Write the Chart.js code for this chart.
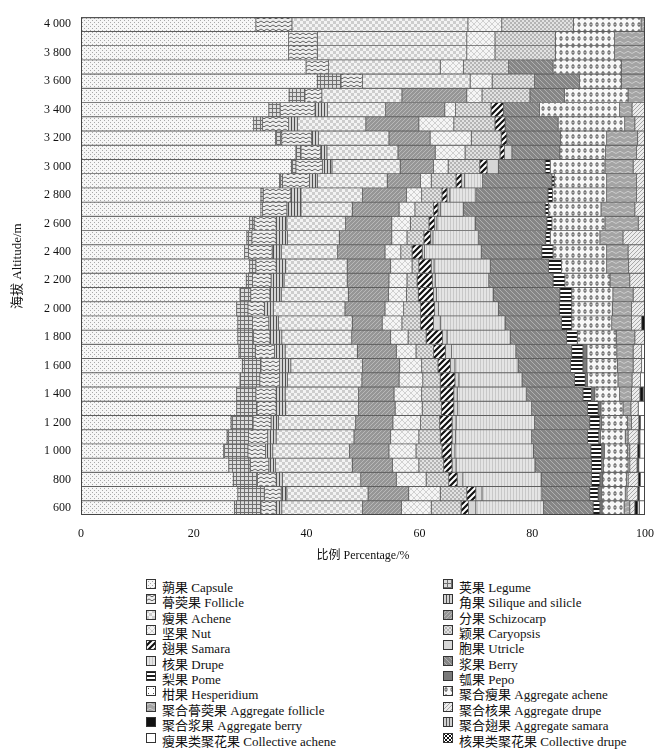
<!DOCTYPE html>
<html>
<head>
<meta charset="utf-8">
<script src="https://cdn.jsdelivr.net/npm/chart.js@4.4.1/dist/chart.umd.min.js"></script>
<style>
  body { margin: 0; background: #fff; }
  #wrap { position: relative; width: 667px; height: 754px; }
  #box { position: absolute; left: 0; top: 0; width: 667px; height: 575px; }
  .item { position: absolute; height: 15px; line-height: 15px; white-space: nowrap;
          font: 13px "Liberation Serif", "Noto Sans CJK SC", serif; color: #111; }
  .item canvas { position: absolute; left: 0; top: 2px; }
  .item span { position: absolute; left: 16px; top: 0; }
</style>
</head>
<body>
<div id="wrap">
  <div id="box"><canvas id="chart"></canvas></div>
  <div id="legend"></div>
</div>
<script>
// altitude classes, bottom to top
const altitudes = [600, 700, 800, 900, 1000, 1100, 1200, 1300, 1400, 1500, 1600, 1700,
    1800, 1900, 2000, 2100, 2200, 2300, 2400, 2500, 2600, 2700, 2800, 2900,
    3000, 3100, 3200, 3300, 3400, 3500, 3600, 3700, 3800, 3900, 4000];

const xTicks = [0, 20, 40, 60, 80, 100];

// ---------------- SERIES (percent, 600 m -> 4000 m) ----------------
const capsule = [27.2, 27.8, 27.0, 26.2, 25.3, 25.9, 26.6, 27.6, 27.6, 28.2, 28.6, 28.0, 27.8, 27.8, 27.6, 28.2, 29.3, 29.9, 29.0, 29.4, 29.9, 31.9, 31.9, 35.2, 37.3, 38.1, 34.5, 30.6, 33.3, 36.9, 41.9, 39.9, 36.8, 36.8, 31.0];
const legume = [4.7, 4.7, 4.3, 3.8, 4.3, 3.8, 3.9, 3.6, 3.4, 3.5, 3.3, 2.9, 2.8, 2.6, 2.0, 1.9, 1.1, 1.1, 0.7, 0.9, 0.8, 0.3, 0.4, 0.5, 0.8, 0.9, 1.1, 1.6, 2.0, 2.8, 4.2, 0, 0, 0, 0];
const follicle = [2.7, 3.0, 3.3, 3.3, 3.1, 3.4, 3.2, 3.4, 3.6, 3.5, 3.3, 3.4, 2.9, 2.9, 2.9, 3.4, 3.3, 3.6, 4.2, 4.3, 3.9, 4.3, 4.9, 4.8, 4.7, 3.5, 5.3, 4.6, 6.2, 3.0, 3.8, 4.0, 5.1, 5.1, 6.4];
const silique = [1.0, 1.0, 1.1, 1.2, 1.3, 1.5, 1.3, 1.7, 1.6, 1.4, 2.0, 1.9, 2.1, 1.7, 1.6, 2.0, 2.3, 1.7, 1.6, 2.0, 1.9, 2.5, 1.8, 1.4, 1.7, 1.1, 1.2, 1.6, 2.2, 0, 0, 0, 0, 0, 0];
const achene = [14.3, 14.4, 13.9, 13.6, 13.6, 13.8, 13.7, 12.9, 13.0, 13.2, 12.7, 12.8, 12.4, 13.1, 12.7, 11.9, 11.2, 10.9, 10.0, 9.2, 10.4, 9.1, 10.9, 12.4, 12.1, 12.6, 12.5, 12.1, 10.3, 14.2, 19.1, 19.8, 26.5, 26.5, 31.2];
const schizocarp = [6.9, 7.2, 6.3, 7.1, 7.0, 6.5, 6.6, 6.5, 6.3, 6.6, 6.6, 6.9, 6.9, 5.3, 7.1, 7.1, 7.4, 7.7, 8.4, 9.3, 8.2, 8.3, 7.8, 5.9, 5.9, 6.6, 7.3, 9.4, 10.5, 11.5, 0, 0, 0, 0, 0];
const nut = [5.3, 5.6, 5.3, 4.7, 4.8, 5.0, 4.9, 4.8, 4.9, 4.2, 3.9, 3.5, 3.1, 3.5, 3.3, 3.2, 3.2, 3.8, 2.8, 2.7, 3.3, 2.8, 2.7, 1.9, 2.6, 5.3, 7.3, 6.2, 1.9, 2.7, 3.9, 4.1, 5.0, 5.0, 6.0];
const caryopsis = [5.3, 4.7, 4.0, 4.4, 4.6, 3.8, 3.4, 3.4, 3.3, 3.1, 2.9, 3.1, 3.2, 3.3, 3.0, 2.1, 1.8, 1.2, 2.0, 3.0, 3.3, 3.3, 3.6, 4.4, 5.6, 6.2, 5.3, 7.3, 6.3, 8.5, 7.5, 8.0, 10.7, 10.7, 12.7];
const samara = [1.3, 1.6, 1.5, 1.5, 1.7, 2.1, 2.2, 2.2, 2.4, 2.6, 2.2, 2.1, 2.9, 2.3, 2.5, 2.7, 2.7, 2.2, 1.8, 1.2, 1.0, 0.8, 0.9, 1.0, 1.3, 0.8, 1.0, 1.8, 2.2, 0, 0, 0, 0, 0, 0];
const utricle = [1.3, 1.1, 1.0, 0.7, 0.6, 0.6, 0.7, 0.7, 0.6, 0.7, 0.8, 1.1, 0.8, 1.2, 0.7, 0.5, 0.5, 0.5, 0.4, 0.4, 0.4, 0.4, 0.5, 0.5, 2.0, 1.3, 0, 0, 0, 0, 0, 0, 0, 0, 0];
const drupe = [12.0, 10.6, 13.9, 14.0, 13.9, 13.5, 13.9, 13.1, 12.3, 11.2, 11.2, 11.4, 11.2, 11.5, 10.6, 10.1, 9.5, 10.0, 10.1, 8.1, 6.8, 4.1, 4.6, 3.2, 0, 0, 0, 0, 0, 0, 0, 0, 0, 0, 0];
const berry = [8.8, 8.5, 8.9, 10.0, 10.2, 9.9, 9.8, 9.9, 10.0, 9.3, 9.3, 9.9, 10.0, 10.0, 10.8, 11.8, 11.4, 10.3, 10.7, 11.9, 12.7, 14.5, 12.8, 12.3, 8.3, 8.5, 9.5, 9.4, 6.4, 6.1, 8.0, 7.9, 0, 0, 0];
const pome = [1.2, 1.5, 1.5, 1.8, 1.9, 2.0, 1.8, 1.9, 1.5, 1.9, 2.2, 2.0, 1.9, 1.8, 2.2, 2.1, 2.1, 2.3, 2.0, 0.8, 0.9, 0.6, 0.8, 0.4, 0.9, 0, 0, 0, 0, 0, 0, 0, 0, 0, 0];
const pepo = [0.4, 0.6, 0.5, 0.3, 0.5, 0.3, 0.3, 0.5, 0.6, 0.4, 0.7, 0.7, 0, 0, 0, 0, 0, 0, 0, 0, 0, 0, 0, 0, 0, 0, 0, 0, 0, 0, 0, 0, 0, 0, 0];
const hesperidium = [0, 0, 0, 0, 0, 0, 0, 0, 0, 0, 0, 0, 0, 0, 0, 0, 0, 0, 0, 0, 0, 0, 0, 0, 0, 0, 0, 0, 0, 0, 0, 0, 0, 0, 0];
const aggAchene = [3.9, 4.2, 4.2, 4.4, 4.1, 4.4, 4.6, 3.9, 4.4, 5.4, 5.4, 5.3, 6.9, 7.1, 7.2, 7.3, 8.0, 8.0, 9.5, 8.8, 9.4, 9.3, 9.6, 9.3, 9.7, 8.1, 8.2, 11.8, 14.2, 11.3, 7.4, 12.1, 10.5, 10.5, 12.0];
const aggFollicle = [1.0, 0.3, 0.3, 0.3, 0.4, 0.5, 0.7, 1.4, 2.1, 2.5, 2.8, 2.9, 3.3, 3.5, 3.4, 3.6, 3.5, 3.9, 3.8, 4.1, 5.9, 6.0, 5.3, 5.3, 5.0, 5.5, 5.5, 1.8, 2.2, 3.0, 4.2, 4.2, 5.4, 5.4, 0.7];
const aggDrupe = [0.9, 1.9, 1.8, 1.3, 1.4, 1.8, 1.3, 1.3, 1.5, 1.5, 1.5, 1.5, 1.8, 1.8, 2.4, 2.1, 2.7, 2.9, 3.0, 3.9, 1.2, 1.8, 1.5, 1.5, 2.1, 1.5, 1.3, 1.8, 2.3, 0, 0, 0, 0, 0, 0];
const aggBerry = [0.5, 0.3, 0.4, 0.3, 0.4, 0.3, 0.3, 0, 0.6, 0, 0, 0, 0, 0.6, 0, 0, 0, 0, 0, 0, 0, 0, 0, 0, 0, 0, 0, 0, 0, 0, 0, 0, 0, 0, 0];
const aggSamara = [0.3, 0, 0, 0, 0, 0, 0, 0, 0, 0, 0, 0, 0, 0, 0, 0, 0, 0, 0, 0, 0, 0, 0, 0, 0, 0, 0, 0, 0, 0, 0, 0, 0, 0, 0];
const collAchene = [1.0, 1.0, 0.8, 1.1, 0.9, 0.9, 0.8, 1.2, 0.3, 0.8, 0.6, 0.6, 0, 0, 0, 0, 0, 0, 0, 0, 0, 0, 0, 0, 0, 0, 0, 0, 0, 0, 0, 0, 0, 0, 0];
const collDrupe = [0, 0, 0, 0, 0, 0, 0, 0, 0, 0, 0, 0, 0, 0, 0, 0, 0, 0, 0, 0, 0, 0, 0, 0, 0, 0, 0, 0, 0, 0, 0, 0, 0, 0, 0];

const seriesNames = [
    "蒴果 Capsule", "荚果 Legume",
    "蓇葖果 Follicle", "角果 Silique and silicle",
    "瘦果 Achene", "分果 Schizocarp",
    "坚果 Nut", "颖果 Caryopsis",
    "翅果 Samara", "胞果 Utricle",
    "核果 Drupe", "浆果 Berry",
    "梨果 Pome", "瓠果 Pepo",
    "柑果 Hesperidium", "聚合瘦果 Aggregate achene",
    "聚合蓇葖果 Aggregate follicle", "聚合核果 Aggregate drupe",
    "聚合浆果 Aggregate berry", "聚合翅果 Aggregate samara",
    "瘦果类聚花果 Collective achene", "核果类聚花果 Collective drupe"
];
const seriesValues = [capsule, legume, follicle, silique, achene, schizocarp, nut, caryopsis,
    samara, utricle, drupe, berry, pome, pepo, hesperidium, aggAchene, aggFollicle,
    aggDrupe, aggBerry, aggSamara, collAchene, collDrupe];

// ---------------- PATTERN TILES ----------------
function tile(w, h, draw) {
    const c = document.createElement("canvas");
    c.width = w; c.height = h;
    const g = c.getContext("2d");
    draw(g, w, h);
    return c;
}
function solid(col) { return tile(2, 2, (g) => { g.fillStyle = col; g.fillRect(0, 0, 2, 2); }); }
function checker(n, a, b) {
    return tile(2 * n, 2 * n, (g) => {
        g.fillStyle = a; g.fillRect(0, 0, 2 * n, 2 * n);
        g.fillStyle = b; g.fillRect(0, 0, n, n); g.fillRect(n, n, n, n);
    });
}
function vlines(w, bg, fg) {
    return tile(w, 1, (g) => { g.fillStyle = bg; g.fillRect(0, 0, w, 1); g.fillStyle = fg; g.fillRect(0, 0, 1, 1); });
}
function diag(n, bg, fg, lw, back) {
    return tile(n, n, (g) => {
        g.fillStyle = bg; g.fillRect(0, 0, n, n);
        g.strokeStyle = fg; g.lineWidth = lw;
        g.beginPath();
        if (back) {
            g.moveTo(-1, -1); g.lineTo(n + 1, n + 1);
            g.moveTo(-1, n - 1); g.lineTo(1, n + 1);
            g.moveTo(n - 1, -1); g.lineTo(n + 1, 1);
        } else {
            g.moveTo(-1, n + 1); g.lineTo(n + 1, -1);
            g.moveTo(-1, 1); g.lineTo(1, -1);
            g.moveTo(n - 1, n + 1); g.lineTo(n + 1, n - 1);
        }
        g.stroke();
    });
}
function wave(w, h, bg, fg) {
    return tile(w, h, (g) => {
        g.fillStyle = bg; g.fillRect(0, 0, w, h);
        g.strokeStyle = fg; g.lineWidth = 1;
        g.beginPath();
        g.moveTo(0, h * 0.7); g.lineTo(w / 2, h * 0.25); g.lineTo(w, h * 0.7);
        g.stroke();
    });
}

const tiles = [
    tile(4, 4, (g) => { g.fillStyle = "#f6f6f6"; g.fillRect(0, 0, 4, 4); g.fillStyle = "#a8a8a8"; g.fillRect(0, 0, 1, 1); g.fillRect(2, 2, 1, 1); }),
    tile(4, 4, (g) => { g.fillStyle = "#dcdcdc"; g.fillRect(0, 0, 4, 4); g.fillStyle = "#707070"; g.fillRect(0, 0, 4, 1); g.fillRect(0, 0, 1, 4); }),
    wave(6, 4, "#eeeeee", "#666666"),
    vlines(3, "#d4d4d4", "#505050"),
    checker(3, "#f3f3f3", "#cdcdcd"),
    diag(4, "#969696", "#b8b8b8", 1, false),
    tile(6, 6, (g) => { g.fillStyle = "#f5f5f5"; g.fillRect(0, 0, 6, 6); g.strokeStyle = "#d0d0d0"; g.lineWidth = 1; g.beginPath(); g.moveTo(0, 0); g.lineTo(6, 6); g.moveTo(6, 0); g.lineTo(0, 6); g.stroke(); }),
    checker(2, "#e2e2e2", "#b4b4b4"),
    diag(6, "#ffffff", "#111111", 2.2, false),
    solid("#d6d6d6"),
    vlines(3, "#e4e4e4", "#c8c8c8"),
    diag(5, "#868686", "#b0b0b0", 1, true),
    tile(1, 4, (g) => { g.fillStyle = "#ffffff"; g.fillRect(0, 0, 1, 4); g.fillStyle = "#1a1a1a"; g.fillRect(0, 0, 1, 2); }),
    solid("#7a7a7a"),
    tile(5, 5, (g) => { g.fillStyle = "#ffffff"; g.fillRect(0, 0, 5, 5); g.fillStyle = "#555"; g.fillRect(2, 2, 1, 1); }),
    tile(6, 7, (g) => { g.fillStyle = "#f7f7f7"; g.fillRect(0, 0, 6, 7); g.strokeStyle = "#4a4a4a"; g.lineWidth = 1; g.beginPath(); g.ellipse(3, 3.5, 1, 2, 0, 0, Math.PI * 2); g.stroke(); }),
    wave(8, 5, "#a4a4a4", "#cccccc"),
    diag(4, "#ececec", "#a8a8a8", 1, false),
    solid("#111111"),
    vlines(3, "#d0d0d0", "#555555"),
    solid("#ffffff"),
    checker(2, "#ffffff", "#111111")
];

// ---------------- CHART ----------------
const canvas = document.getElementById("chart");
const ctx = canvas.getContext("2d");
const fontFamily = '"Liberation Serif", "Noto Sans CJK SC", serif';

function altLabel(a) {
    if (a < 1000) return String(a);
    return Math.floor(a / 1000) + " " + String(a % 1000).padStart(3, "0");
}

const datasets = seriesNames.map((name, i) => ({
    label: name,
    data: seriesValues[i],
    backgroundColor: ctx.createPattern(tiles[i], "repeat"),
    borderColor: "#5e5e5e",
    borderWidth: 0.8,
    borderSkipped: false,
    barPercentage: 1.0,
    categoryPercentage: 1.0
}));

const framePlugin = {
    id: "frame",
    afterDatasetsDraw(chart) {
        const a = chart.chartArea;
        const c = chart.ctx;
        c.save();
        c.strokeStyle = "#444";
        c.lineWidth = 1;
        c.strokeRect(a.left + 0.5, a.top + 0.5, a.right - a.left - 1, a.bottom - a.top - 1);
        c.restore();
    }
};

new Chart(canvas, {
    type: "bar",
    data: { labels: altitudes, datasets: datasets },
    plugins: [framePlugin],
    options: {
        indexAxis: "y",
        responsive: true,
        maintainAspectRatio: false,
        animation: false,
        layout: { padding: { left: 0, right: 22, top: 3, bottom: 0 } },
        plugins: { legend: { display: false }, tooltip: { enabled: false } },
        scales: {
            x: {
                stacked: true,
                min: 0,
                max: 100,
                afterBuildTicks: (s) => { s.ticks = xTicks.map(v => ({ value: v })); },
                afterFit: (s) => { s.height = 60; },
                grid: { display: false, drawTicks: false },
                border: { display: false },
                ticks: { color: "#111", padding: 12, font: { family: fontFamily, size: 12 } },
                title: {
                    display: true,
                    text: "比例 Percentage/%",
                    color: "#111",
                    padding: { top: 0, bottom: 12 },
                    font: { family: fontFamily, size: 12 }
                }
            },
            y: {
                stacked: true,
                reverse: true,
                afterFit: (s) => { s.width = 81; },
                grid: { display: false, drawTicks: false },
                border: { display: false },
                ticks: {
                    autoSkip: false,
                    color: "#111",
                    padding: 10,
                    font: { family: fontFamily, size: 12 },
                    callback: function (value, index) {
                        const a = altitudes[index];
                        return a % 200 === 0 ? altLabel(a) : "";
                    }
                },
                title: {
                    display: true,
                    text: "海拔 Altitude/m",
                    color: "#111",
                    padding: { top: 10, bottom: 0 },
                    font: { family: fontFamily, size: 13 }
                }
            }
        }
    }
});

// ---------------- LEGEND ----------------
const legend = document.getElementById("legend");
seriesNames.forEach((name, i) => {
    const row = Math.floor(i / 2);
    const col = i % 2;
    const item = document.createElement("div");
    item.className = "item";
    item.style.left = (col ? 443 : 146) + "px";
    item.style.top = (577 + row * 15.35) + "px";
    const sw = document.createElement("canvas");
    sw.width = 10; sw.height = 10;
    const g = sw.getContext("2d");
    g.fillStyle = g.createPattern(tiles[i], "repeat");
    g.fillRect(0, 0, 10, 10);
    g.strokeStyle = "#333";
    g.lineWidth = 1;
    g.strokeRect(0.5, 0.5, 9, 9);
    const txt = document.createElement("span");
    txt.textContent = name;
    item.appendChild(sw);
    item.appendChild(txt);
    legend.appendChild(item);
});
</script>
</body>
</html>
